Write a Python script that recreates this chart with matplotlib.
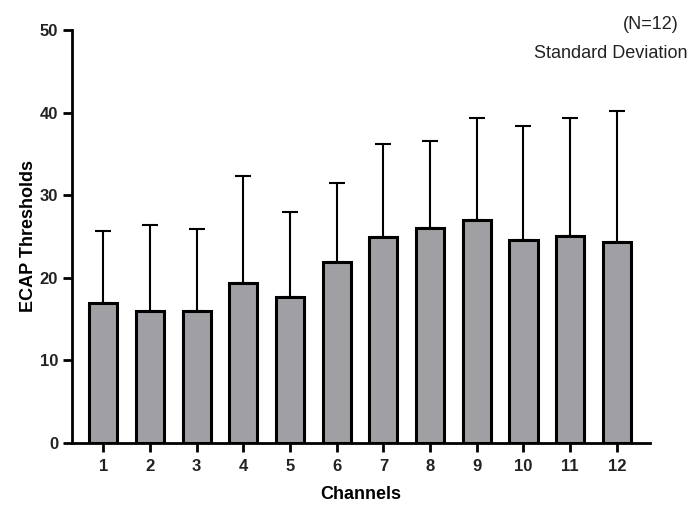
import matplotlib
matplotlib.use("Agg")
import matplotlib.pyplot as plt

# values
channels = [1, 2, 3, 4, 5, 6, 7, 8, 9, 10, 11, 12]
means = [16.9, 16.0, 16.0, 19.3, 17.7, 21.9, 24.9, 26.0, 27.0, 24.6, 25.0, 24.3]
sds = [8.7, 10.4, 9.9, 13.0, 10.2, 9.6, 11.3, 10.6, 12.4, 13.8, 14.3, 15.9]
y_ticks = [0, 10, 20, 30, 40, 50]

plt.rcParams["font.family"] = ["Liberation Sans", "DejaVu Sans"]

fig = plt.figure(figsize=(7, 5.18), dpi=100)
ax = fig.add_axes([0.1029, 0.1454, 0.8257, 0.7966])

ax.bar(channels, means, width=0.6, color="#a09fa4", edgecolor="black",
       linewidth=2.2, zorder=2)
ax.errorbar(channels, means, yerr=[[0] * len(sds), sds], fmt="none",
            ecolor="black", elinewidth=1.5, capsize=5.5, capthick=1.5, zorder=1)

ax.set_xlim(0.33, 12.71)
ax.set_ylim(0, 50)
ax.set_xticks(channels)
ax.set_yticks(y_ticks)

for side in ["top", "right"]:
    ax.spines[side].set_visible(False)
for side in ["left", "bottom"]:
    ax.spines[side].set_linewidth(2.0)

ax.tick_params(axis="both", width=2.0, length=6.5, labelsize=12)
ax.tick_params(axis="x", pad=5)
for lab in ax.get_xticklabels() + ax.get_yticklabels():
    lab.set_fontweight("bold")
    lab.set_color("#222222")

ax.set_xlabel("Channels", fontsize=13, fontweight="bold", labelpad=9)
ax.set_ylabel("ECAP Thresholds", fontsize=13, fontweight="bold", labelpad=2)

fig.text(0.969, 0.952, "(N=12)", ha="right", va="center", fontsize=13, color="#222222")
fig.text(0.982, 0.896, "Standard Deviation", ha="right", va="center", fontsize=13,
         color="#222222")

fig.savefig("out.png", dpi=100)
